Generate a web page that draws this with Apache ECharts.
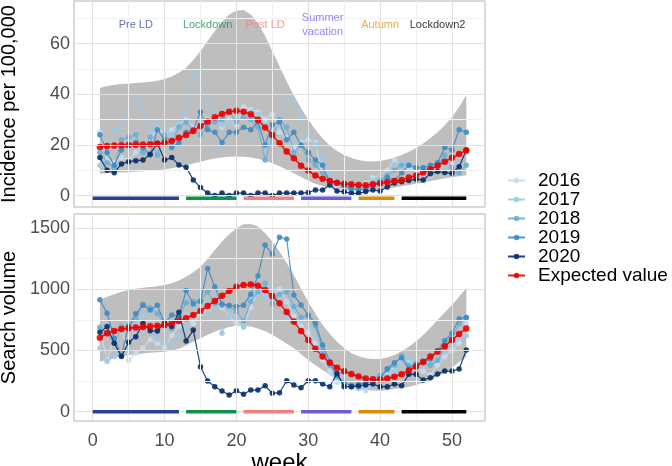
<!DOCTYPE html>
<html><head><meta charset="utf-8">
<script src="https://cdn.jsdelivr.net/npm/echarts@6/dist/echarts.min.js"></script>
<style>html,body{margin:0;padding:0;background:#fff}#c{width:672px;height:466px}</style>
</head><body><div id="c"></div>
<script>
// ---------- data ----------
const weeks = [1,2,3,4,5,6,7,8,9,10,11,12,13,14,15,16,17,18,19,20,21,22,23,24,25,26,27,28,29,30,31,32,33,34,35,36,37,38,39,40,41,42,43,44,45,46,47,48,49,50,51,52];
const years = ['2016','2017','2018','2019','2020'];
const expName = 'Expected value';

// Incidence per 100,000 (top panel)
const inc2016 = [25,14,13,15,14,17,20,22,27,24,26,28,30,27,28,30,31,27,30,28,35,34,33,30,32,25,23,19,21,22,21,7,4,3,2,2,3,5,7,8,10,14,12,11,10,9,8,10,12,13,16,17];
const inc2017 = [12,17,26,27,32,38,34,25,28,27,24,28,33,48,48,37,30,28,29,30,31,33,32,28,20,30,40,37,31,24,20,14,9,6,4,3,3,4,6,8,9,12,13,12,11,10,11,13,12,14,12,17];
const inc2018 = [17,13,11,22,23,24,17,23,16,24,21,27,29,26,24,28,29,30,33,29,31,30,27,14,23,30,27,17,20,14,12,9,6,5,4,2,3,2,4,6,8,10,12,12,11,11,10,12,16,11,9,12];
const inc2019 = [24,17,12,18,20,21,19,16,26,22,19,21,25,26,33,26,25,21,25,25,27,26,29,20,28,29,22,25,20,17,14,12,5,5,4,3,2,3,4,5,7,6,9,12,11,11,12,13,19,18,26,25];
const inc2020 = [15,10,9,12.5,13.4,13.8,14,16.3,20.7,14,15,12.1,11.2,6.2,3.2,1,0,1,0,1,1,0,1,1,0,1,1,1,1,1.2,2.2,2.2,4.2,1.8,1.5,0.9,0.9,1.6,2.2,1.8,3.4,5,5.5,6,6.5,6.2,8.6,9.5,9.1,8.8,11.4,17.9];
const incExpected = [19.2,19.6,19.8,19.9,20.0,20.1,20.2,20.3,20.5,20.8,21.5,22.8,23.9,25.5,27.5,29.2,30.9,32.2,33.1,33.5,33.1,32.1,29.9,26.9,23.9,20.7,17.4,14.7,11.8,9.9,7.9,6.6,5.8,5.1,4.7,4.5,4.2,4.1,4.5,4.9,5.3,5.8,6.2,7.1,7.9,9.1,10.4,11.8,13.4,14.9,16.4,17.9];
const incUpper = [42.5,43.3,43.7,44.0,44.2,44.4,44.6,44.9,45.3,46.0,47.0,48.5,50.5,53.5,57.0,61.0,65.0,68.5,71.5,73.0,73.2,71.5,68.0,63.0,57.0,51.0,45.0,39.5,34.5,30.0,26.0,22.5,19.8,17.6,16.0,14.8,14.0,13.6,13.5,13.7,14.2,15.0,16.0,17.3,18.8,20.6,22.7,25.0,27.8,31.0,35.0,39.7];
const incLower = [8.6,8.8,9.0,9.1,9.2,9.4,9.6,9.8,10.0,10.3,10.8,11.4,12.0,12.7,13.4,14.0,14.6,15.0,15.3,15.4,15.3,15.0,14.5,13.8,12.8,11.6,10.2,8.8,7.3,5.9,4.7,3.8,3.1,2.6,2.3,2.1,2.0,2.0,2.1,2.4,2.8,3.2,3.7,4.2,4.7,5.2,5.8,6.3,6.8,7.2,7.6,8.0];

// Search volume (bottom panel)
const vol2016 = [680,420,600,700,420,480,520,590,560,520,620,700,760,720,800,820,880,850,780,720,700,850,980,1000,950,1000,900,780,700,650,560,420,330,240,210,200,190,170,240,300,320,360,450,400,360,330,300,380,450,500,560,720];
const vol2017 = [520,410,450,470,530,690,780,820,590,580,520,620,680,800,1050,800,930,640,780,770,690,940,960,940,1020,930,760,850,740,700,600,500,380,280,240,200,190,210,240,280,290,330,420,440,350,390,420,440,490,540,610,620];
const vol2018 = [690,640,560,700,690,760,880,850,800,720,680,780,890,900,910,980,880,870,860,820,740,900,980,1050,880,960,980,860,770,780,700,500,380,290,240,210,220,230,270,300,340,380,460,380,370,400,380,420,520,600,720,770];
const vol2019 = [915,804,600,460,700,800,870,830,870,720,790,780,990,880,900,1170,1020,880,870,860,870,960,1110,1362,1288,1425,1411,953,872,790,722,545,409,300,230,215,220,240,250,270,350,400,440,350,390,400,430,500,580,640,760,770];
const vol2020 = [648,695,560,450,567,613,722,662,660,722,695,812,578,667,368,251,204,169,136,172,142,177,177,212,150,155,253,218,196,253,253,226,204,313,204,204,210,218,226,204,204,226,212,305,305,259,278,308,332,332,349,504];
const volExpected = [604,640,659,676,681,687,692,697,703,708,722,741,763,790,823,864,905,948,986,1021,1035,1040,1029,995,945,885,815,736,660,586,515,450,400,360,330,308,288,272,265,264,272,286,306,335,370,409,450,490,535,586,635,680];
const volUpper = [913,940,960,980,995,1005,1012,1018,1025,1035,1050,1072,1103,1140,1185,1250,1320,1390,1450,1499,1531,1534,1512,1458,1390,1308,1215,1117,1005,899,800,708,635,572,520,477,452,436,430,430,442,463,493,531,576,627,686,749,810,872,940,1013];
const volLower = [409,425,440,452,463,470,476,481,485,490,500,515,540,572,600,628,654,675,692,703,702,695,680,659,628,594,556,518,470,422,380,341,300,259,228,204,188,177,173,172,176,185,194,204,218,237,255,285,320,360,405,450];

// Periods
const periodNames = ['Pre LD','Lockdown','Post LD','Summer\nvacation','Autumn','Lockdown2'];
const periodStart = [0,13,21,29,37,43];
const periodEnd   = [12,20,28,36,42,52];
const periodLabelWeek = [6,16,24,32,40,48];
const periodLabelInc = 67.5;
const periodBarInc = -1;
const periodBarVol = 0;

// Ticks
const xTicks = [0,10,20,30,40,50];
const xMinor = [5,15,25,35,45];
const incTicks = [0,20,40,60];
const incMinor = [10,30,50,70];
const volTicks = [0,500,1000,1500];
const volMinor = [250,750,1250];

// ---------- styles ----------
const yearColors = ['#c6dbef','#9ecae1','#6baed6','#3f8cc4','#08306b'];
const expColor = '#ee0000';
const periodBarColors = ['#2b3f8c','#11924a','#f28080','#6f5bd6','#d98c0a','#000000'];
const periodTextColors = ['#3a4ea0','#1a9150','#f08080','#7b68ee','#dc9a1e','#000000'];
const FONT = '"Liberation Sans", Arial, Helvetica, sans-serif';

const incByYear = [inc2016,inc2017,inc2018,inc2019,inc2020];
const volByYear = [vol2016,vol2017,vol2018,vol2019,vol2020];
const pairs = ys => weeks.map((w,i)=>[w, ys[i]]);

const series = [];
function gridLines(xi, majY, minY){
  const major = {color:'#e2e2e2', width:1, type:'solid'};
  const minor = {color:'#f1f1f1', width:1, type:'solid'};
  const d = [];
  xMinor.forEach(v=>d.push({xAxis:v, lineStyle:minor}));
  minY.forEach(v=>d.push({yAxis:v, lineStyle:minor}));
  xTicks.forEach(v=>d.push({xAxis:v, lineStyle:major}));
  majY.forEach(v=>d.push({yAxis:v, lineStyle:major}));
  series.push({type:'line', xAxisIndex:xi, yAxisIndex:xi, data:[], z:0, silent:true,
    markLine:{silent:true, symbol:'none', label:{show:false}, animation:false, data:d}});
}
gridLines(0, incTicks, incMinor);
gridLines(1, volTicks, volMinor);

function ribbon(xi, lo, up){
  const rows = weeks.map((w,i)=>[w, lo[i], up[i]]);
  series.push({type:'custom', xAxisIndex:xi, yAxisIndex:xi, z:1, silent:true,
    data: rows,
    encode:{x:0, y:[1,2]},
    renderItem: function(params, api){
      if (params.dataIndex !== 0) return null;
      const pts = [];
      rows.forEach(r=>pts.push(api.coord([r[0], r[2]])));
      for (let i=rows.length-1;i>=0;i--) pts.push(api.coord([rows[i][0], rows[i][1]]));
      return {type:'polygon', shape:{points:pts}, style:{fill:'#bebebe'}};
    }});
}
ribbon(0, incLower, incUpper);
ribbon(1, volLower, volUpper);

function yearsSeries(xi, arrs){
  arrs.forEach((a,k)=>{
    series.push({type:'line', name:years[k], xAxisIndex:xi, yAxisIndex:xi, data:pairs(a),
      symbol:'circle', symbolSize:5.5, color:yearColors[k],
      lineStyle:{width:1.2, opacity:0.9}, itemStyle:{opacity:0.9}, z:3+k*0.1});
  });
  series.push({type:'line', name:expName, xAxisIndex:xi, yAxisIndex:xi,
    data:pairs(xi===0?incExpected:volExpected), symbol:'circle', symbolSize:6.5, color:expColor,
    lineStyle:{width:1.5, opacity:0.9}, itemStyle:{opacity:0.9}, z:4});
}
yearsSeries(0, incByYear);
yearsSeries(1, volByYear);

function periodBars(xi, yv){
  periodNames.forEach((n,k)=>{
    series.push({type:'line', xAxisIndex:xi, yAxisIndex:xi, data:[[periodStart[k],yv],[periodEnd[k],yv]],
      symbol:'none', lineStyle:{width:3.5, color:periodBarColors[k], cap:'butt'}, z:5, silent:true});
  });
}
periodBars(0, periodBarInc);
periodBars(1, periodBarVol);

series.push({type:'scatter', xAxisIndex:0, yAxisIndex:0, symbolSize:0, z:6, silent:true,
  data: periodNames.map((n,k)=>({value:[periodLabelWeek[k], periodLabelInc], name:n,
    label:{show:true, position:'inside', formatter:n, color:periodTextColors[k], fontSize:11,
      lineHeight:14, fontFamily:FONT}}))});

const xCommon = {type:'value', min:-2.6, max:54.6,
  axisLine:{show:false}, splitLine:{show:false},
  axisTick:{show:true, customValues:xTicks, length:3, lineStyle:{color:'#b3b3b3'}},
  axisLabel:{show:true, customValues:xTicks, fontSize:18, color:'#4d4d4d', margin:11, fontFamily:FONT,
    formatter: v => String(v)}};

const option = {
  animation:false,
  backgroundColor:'#ffffff',
  textStyle:{fontFamily:FONT},
  grid:[
    {left:74, top:1, width:411, height:206, show:true, borderColor:'#b3b3b3', borderWidth:1,
     backgroundColor:'transparent', containLabel:false, outerBoundsMode:'none'},
    {left:74, top:214, width:411, height:207, show:true, borderColor:'#b3b3b3', borderWidth:1,
     backgroundColor:'transparent', containLabel:false, outerBoundsMode:'none'}
  ],
  xAxis:[
    Object.assign({}, xCommon, {gridIndex:0, axisTick:{show:false}, axisLabel:{show:false}}),
    Object.assign({}, xCommon, {gridIndex:1, name:'week', nameLocation:'middle', nameGap:28,
      nameTextStyle:{fontSize:24, color:'#000', fontFamily:FONT}})
  ],
  yAxis:[
    {type:'value', gridIndex:0, min:-4.5, max:76.8, axisLine:{show:false}, splitLine:{show:false},
     axisTick:{show:true, customValues:incTicks, length:3, lineStyle:{color:'#b3b3b3'}},
     axisLabel:{customValues:incTicks, fontSize:18, color:'#4d4d4d', margin:4, fontFamily:FONT,
       formatter: v => String(v)},
     name:'Incidence per 100,000', nameLocation:'middle', nameGap:55,
     nameTextStyle:{fontSize:20, color:'#000', fontFamily:FONT}},
    {type:'value', gridIndex:1, min:-76, max:1615, axisLine:{show:false}, splitLine:{show:false},
     axisTick:{show:true, customValues:volTicks, length:3, lineStyle:{color:'#b3b3b3'}},
     axisLabel:{customValues:volTicks, fontSize:18, color:'#4d4d4d', margin:4, fontFamily:FONT,
       formatter: v => String(v)},
     name:'Search volume', nameLocation:'middle', nameGap:55,
     nameTextStyle:{fontSize:20, color:'#000', fontFamily:FONT}}
  ],
  legend:{orient:'vertical', left:502, top:166, itemWidth:17, itemHeight:7, itemGap:0,
    data: years.concat([expName]),
    textStyle:{fontSize:19, lineHeight:19, color:'#000', fontFamily:FONT, padding:[0,0,0,8]}},
  series: series
};
const chart = echarts.init(document.getElementById('c'), null, {renderer:'canvas'});
chart.setOption(option);
</script></body></html>
